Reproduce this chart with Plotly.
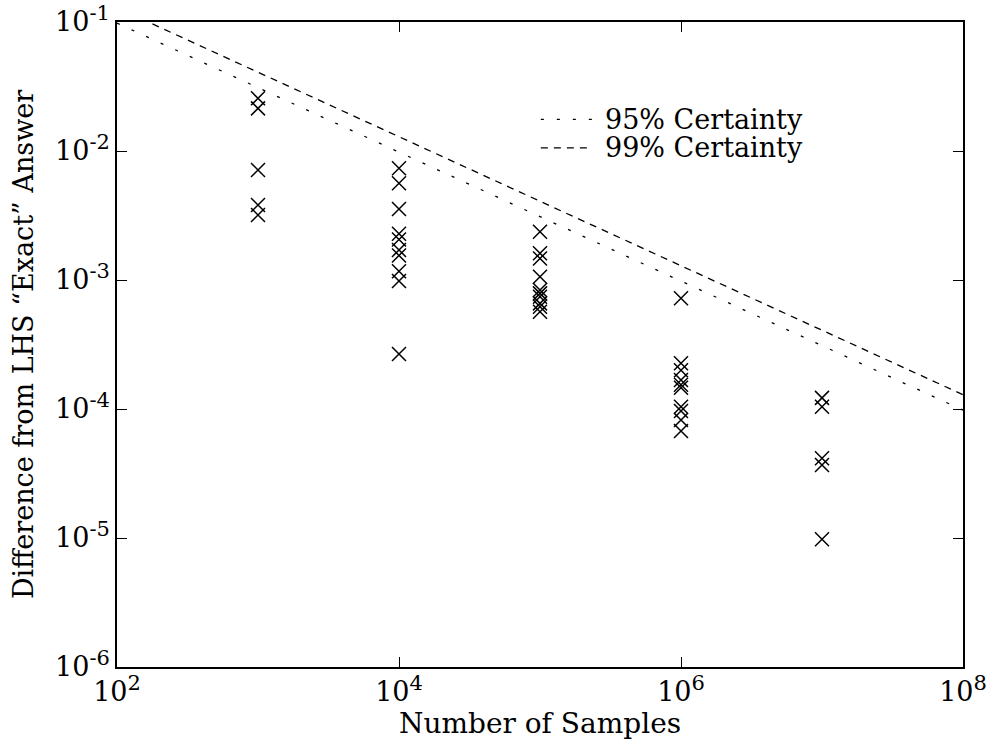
import plotly.graph_objects as go

# ---- data ----
samples_1e3 = [2.56e-2, 2.14e-2, 7.13e-3, 3.81e-3, 3.19e-3]
samples_1e4 = [7.34e-3, 5.62e-3, 3.55e-3, 2.28e-3, 2.06e-3, 1.71e-3, 1.55e-3, 1.17e-3, 9.82e-4, 2.67e-4]
samples_1e5 = [2.37e-3, 1.61e-3, 1.47e-3, 1.06e-3, 8.36e-4, 7.88e-4, 7.42e-4, 6.59e-4, 6.21e-4, 5.68e-4]
samples_1e6 = [7.21e-4, 2.26e-4, 2.00e-4, 1.68e-4, 1.54e-4, 1.46e-4, 1.04e-4, 9.65e-5, 8.22e-5, 6.75e-5]
samples_1e7 = [1.22e-4, 1.04e-4, 4.15e-5, 3.68e-5, 9.77e-6]
n_values = [1e3, 1e4, 1e5, 1e6, 1e7]

line_x = [1e2, 1e8]
certainty_95 = [0.098, 9.8e-5]
certainty_99 = [0.129, 1.29e-4]
legend_labels = ["95% Certainty", "99% Certainty"]

x_tickvals = [1e2, 1e4, 1e6, 1e8]
x_exponents = ["2", "4", "6", "8"]
y_tickvals = [1e-1, 1e-2, 1e-3, 1e-4, 1e-5, 1e-6]
y_exponents = ["-1", "-2", "-3", "-4", "-5", "-6"]

FONT = "DejaVu Serif"
SUP = "<sup><span style='font-size:21px'>{}</span></sup>"
x_ticktext = ["10" + SUP.format(e) for e in x_exponents]
y_ticktext = ["10" + SUP.format(e) for e in y_exponents]

DASH_95 = "3px,13px"
DASH_99 = "7px,6px"

pts_x, pts_y = [], []
for n, col in zip(n_values, [samples_1e3, samples_1e4, samples_1e5, samples_1e6, samples_1e7]):
    for v in col:
        pts_x.append(n)
        pts_y.append(v)

fig = go.Figure()
fig.add_trace(go.Scatter(
    x=pts_x, y=pts_y, mode="markers", showlegend=False,
    marker=dict(symbol="x-thin", size=14, color="black",
                line=dict(color="black", width=1.5)),
))
fig.add_trace(go.Scatter(
    x=line_x, y=certainty_95, mode="lines", name=legend_labels[0], showlegend=False,
    line=dict(color="black", width=1.3, dash=DASH_95),
))
fig.add_trace(go.Scatter(
    x=line_x, y=certainty_99, mode="lines", name=legend_labels[1], showlegend=False,
    line=dict(color="black", width=1.3, dash=DASH_99),
))

# legend drawn inside the plot, as in the reference
legend_rows_y = [0.849, 0.805]
for label, dash, yy in zip(legend_labels, [DASH_95, DASH_99], legend_rows_y):
    fig.add_shape(type="line", xref="paper", yref="paper",
                  x0=0.501, x1=0.562, y0=yy, y1=yy,
                  line=dict(color="black", width=1.3, dash=dash))
    fig.add_annotation(xref="paper", yref="paper", x=0.575, y=yy,
                       xanchor="left", yanchor="middle", showarrow=False,
                       text=label, font=dict(family=FONT, size=27, color="black"))

axis_common = dict(
    type="log", showgrid=False, zeroline=False, showline=True, automargin=False,
    linecolor="black", linewidth=1.5, mirror="allticks",
    ticks="inside", ticklen=10, tickwidth=1.2, tickcolor="black",
    tickfont=dict(family=FONT, size=27, color="black"),
)

fig.update_layout(
    width=988, height=740,
    margin=dict(l=117, r=25, t=22, b=73, autoexpand=False),
    paper_bgcolor="white", plot_bgcolor="white",
    font=dict(family=FONT, color="black"),
    showlegend=False,
    xaxis=dict(axis_common, range=[2, 8], tickvals=x_tickvals, ticktext=x_ticktext,
               title=dict(text="Number of Samples", font=dict(family=FONT, size=28), standoff=0)),
    yaxis=dict(axis_common, range=[-6, -1], tickvals=y_tickvals, ticktext=y_ticktext,
               title=dict(text="Difference from LHS “Exact” Answer",
                          font=dict(family=FONT, size=27), standoff=14)),
)

fig.write_html("out.html")
